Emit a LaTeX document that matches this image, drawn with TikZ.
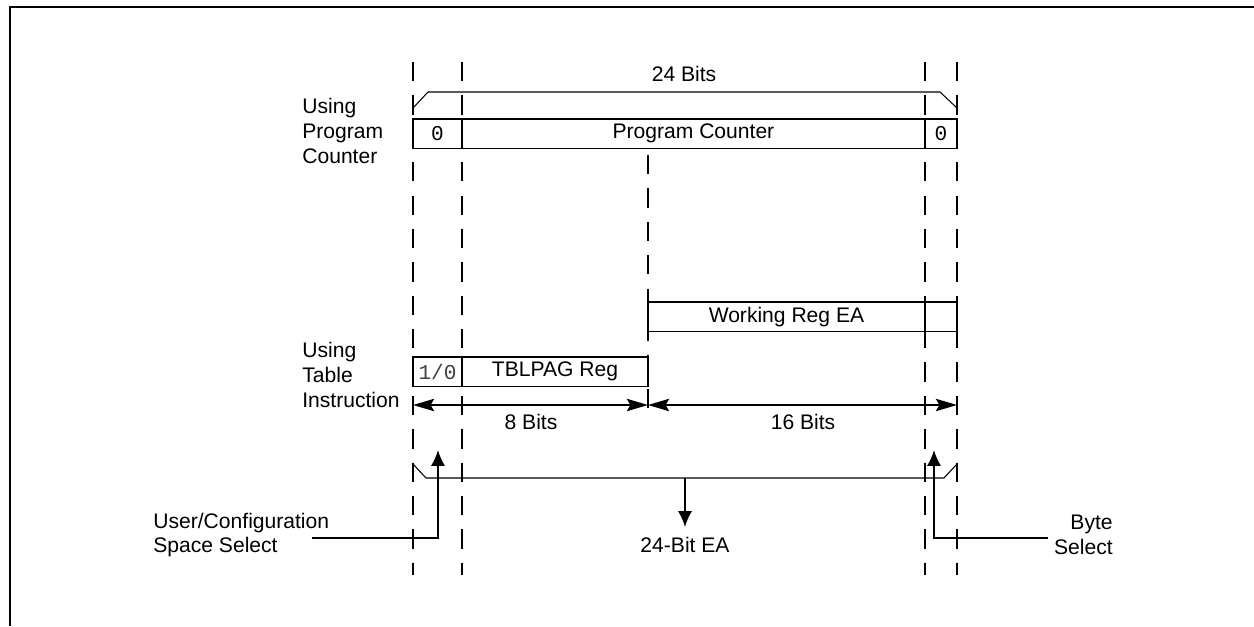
\documentclass[tikz,border=0pt]{standalone}
\usepackage{fontspec}
\setmainfont{Liberation Sans}
\newfontfamily\regfont{Liberation Mono}
\usetikzlibrary{arrows.meta,positioning}

\tikzset{
  field/.style={draw, line width=1pt, minimum height=0.59cm, inner sep=0pt, outer sep=0pt, anchor=north west},
  guide/.style={line width=1.1pt, dash pattern=on 11pt off 8pt},
  brace/.style={line width=0.6pt},
  dim/.style={line width=1.1pt, {Stealth[length=12pt,width=7pt,inset=2pt]}-{Stealth[length=12pt,width=7pt,inset=2pt]}},
  pointer/.style={line width=1.1pt, -{Latex[length=9pt,width=8pt]}},
  side/.style={align=left, anchor=west, inner sep=0pt}
}

\begin{document}
\begin{tikzpicture}[x=0.02cm, y=-0.02cm, font=\fontsize{12}{14}\selectfont]
\useasboundingbox (0,0) rectangle (1254,626);
\draw[line width=1.2pt] (10,626) -- (10,7) -- (1254,7);

% guide lines
\foreach \x in {413,462,925,957}
  \draw[guide] (\x,62) -- (\x,575);
\draw[guide] (648,155) -- (648,420);

% program counter row
\node[side] (pclabel) at (302,131) {Using\\Program\\Counter};
\node[field, minimum width=0.98cm] (pc0) at (413,119) {\regfont 0};
\node[field, minimum width=9.26cm] (pc) at (pc0.north east) {Program Counter};
\node[field, minimum width=0.64cm] (pc1) at (pc.north east) {\regfont 0};
\draw[brace] (413,108) -- (428,92) -- (940,92) -- (957,108);
\node (bits24) at (684,74) {24 Bits};

% table instruction rows
\node[field, minimum width=5.54cm] (wreg) at (648,302) {Working Reg EA};
\node[field, minimum width=0.64cm] (wbyte) at (wreg.north east) {};
\node[side] (tbllabel) at (302,375) {Using\\Table\\Instruction};
\node[field, minimum width=0.98cm] (tsel) at (413,357) {\regfont\color{black!75}1/0};
\node[field, minimum width=3.72cm] (tblpag) at (tsel.north east) {TBLPAG Reg};

% widths
\coordinate (dl) at (413,405);
\coordinate (dm) at (648,405);
\coordinate (dr) at (957,405);
\draw[dim] (dl) -- (dm);
\draw[dim] (dm) -- (dr);
\node (bits8) at (531,422) {8 Bits};
\node (bits16) at (803,422) {16 Bits};

% effective address
\draw[brace] (413,464) -- (426,478) -- (944,478) -- (957,464);
\coordinate (ea) at (685,478);
\coordinate (eatip) at (685,527);
\draw[pointer] (ea) -- (eatip);
\node (eatext) at (685,545) {24-Bit EA};

% select bits
\node[side] (usersel) at (153,535) {User/Configuration\\Space Select};
\coordinate (ucorner) at (438,538);
\coordinate (utip) at (438,450);
\draw[pointer] (312,538) -- (ucorner) -- (utip);
\node[align=right, anchor=east, inner sep=0pt] (bytesel) at (1113,535) {Byte\\Select};
\coordinate (bcorner) at (934,538);
\coordinate (btip) at (934,450);
\draw[pointer] (1048,538) -- (bcorner) -- (btip);
\end{tikzpicture}
\end{document}
